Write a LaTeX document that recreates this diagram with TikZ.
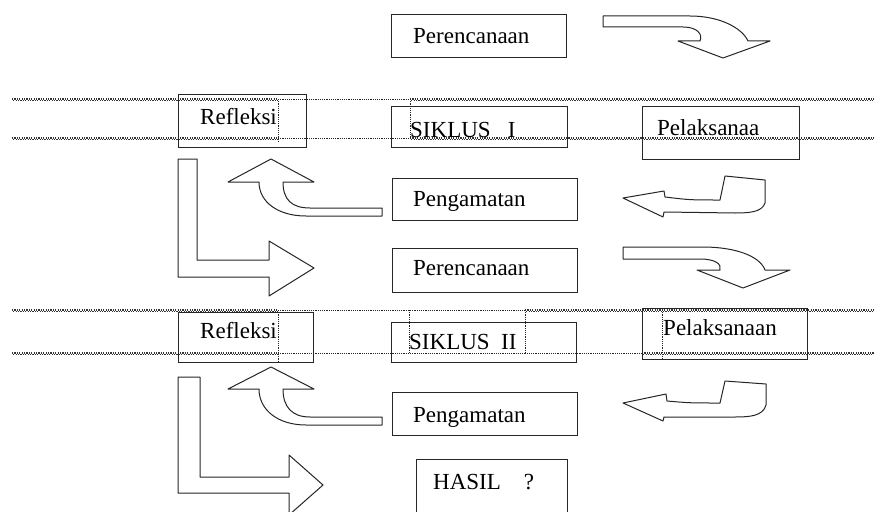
\documentclass[tikz,border=0pt]{standalone}
\usepackage{fontspec}
\setmainfont{Liberation Serif}
\begin{document}
\begin{tikzpicture}[x=1pt,y=-1pt,
  box/.style={draw=black!85, line width=1.2pt, inner sep=0pt, anchor=north west},
  lbl/.style={anchor=base west, inner sep=0pt, font=\fontsize{23}{27}\selectfont},
  thickdot/.style={line width=1.3pt, black!80, dash pattern=on 1.2pt off 1.2pt,
    preaction={draw, line width=1.3pt, black!80, dash pattern=on 1.2pt off 1.2pt,
      dash phase=1.2pt, transform canvas={yshift=-1.3pt}}},
  thindot/.style={line width=1pt, black!85, dash pattern=on 1.1pt off 1.1pt},
  blockarrow/.style={draw=black!85, line width=1pt, fill=white, line join=round}]
\useasboundingbox (0,0) rectangle (874,511);
\clip (0,0) rectangle (874,511);
\fill[white] (0,0) rectangle (874,511);

% ---- dotted band lines, cycle I
\draw[thickdot] (12,99) -- (278,99);
\draw[thindot] (278,99) -- (410,99);
\draw[thickdot] (410,99) -- (874,99);
\draw[thickdot] (12,138) -- (278,138);
\draw[thindot] (278,138) -- (410,138);
\draw[thickdot] (410,138) -- (874,138);
\draw[thindot] (278,99) -- (278,142);
\draw[thindot] (410,99) -- (410,138);

% ---- dotted band lines, cycle II
\draw[thickdot] (12,310) -- (278,310);
\draw[thindot] (278,310) -- (525,310);
\draw[thickdot] (525,310) -- (874,310);
\draw[thickdot] (12,353) -- (278,353);
\draw[thindot] (278,353) -- (642,353);
\draw[thickdot] (642,353) -- (874,353);
\draw[thindot] (278,310) -- (278,362);
\draw[thindot] (409,310) -- (409,353);
\draw[thindot] (525,310) -- (525,353);
\draw[thindot] (662,310) -- (662,359);

% ---- boxes
\node[box, minimum width=175pt, minimum height=43pt] (p1) at (391,14) {};
\node[box, minimum width=128pt, minimum height=53pt] (r1) at (178,94) {};
\node[box, minimum width=176pt, minimum height=41pt] (s1) at (391,106) {};
\node[box, minimum width=157pt, minimum height=53pt] (l1) at (642,106) {};
\node[box, minimum width=185pt, minimum height=42pt] (g1) at (392,178) {};
\node[box, minimum width=185pt, minimum height=44pt] (p2) at (392,248) {};
\node[box, minimum width=135pt, minimum height=50pt] (r2) at (178,312) {};
\node[box, minimum width=185pt, minimum height=40pt] (s2) at (391,322) {};
\node[box, minimum width=165pt, minimum height=51pt] (l2) at (642,308) {};
\node[box, minimum width=185pt, minimum height=43pt] (g2) at (392,392) {};
\node[box, minimum width=151pt, minimum height=70pt] (h) at (416,459) {};

% ---- labels
\node[lbl] (p1t) at (413,44) {Perencanaan};
\node[lbl] (r1t) at (200,124) {Refleksi};
\node[lbl] (s1t) at (410,137) {SIKLUS\ \ \ I};
\node[lbl] (l1t) at (657,135) {Pelaksanaa};
\node[lbl] (g1t) at (413,206) {Pengamatan};
\node[lbl] (p2t) at (413,275) {Perencanaan};
\node[lbl] (r2t) at (200,338) {Refleksi};
\node[lbl] (s2t) at (409,349) {SIKLUS\ \ II};
\node[lbl] (l2t) at (663,335) {Pelaksanaan};
\node[lbl] (g2t) at (413,422) {Pengamatan};
\node[lbl] (ht) at (433,489) {HASIL\ \ \ \ ?};

% ---- block arrows, cycle I
% top curved arrow (right then down)
\draw[blockarrow] (603,16) -- (690,16) .. controls (720,16) and (742,28) .. (748,41)
  -- (770,41) -- (723,58) -- (678,41) -- (700,41)
  .. controls (703,34) and (697,27) .. (683,27) -- (603,27) -- cycle;
% left-pointing hook arrow
\draw[blockarrow] (623,198) -- (664,191) -- (665,197) .. controls (690,200) .. (720,200)
  -- (725,176) -- (765,180) -- (765,203) .. controls (762,212) and (750,213) .. (735,213)
  -- (664,212) -- (663,217) -- cycle;
% curved up arrow
\draw[blockarrow] (271,159) -- (314,182) -- (283,182) .. controls (283,200) and (292,208) .. (310,208)
  -- (382,208) -- (382,216) -- (306,216) .. controls (278,216) and (259,202) .. (259,182)
  -- (228,182) -- cycle;
% L arrow
\draw[blockarrow] (178,159) -- (197,159) -- (197,260) -- (269,260) -- (269,241) -- (314,268)
  -- (269,296) -- (269,277) -- (178,277) -- cycle;
% second curved arrow (right then down)
\draw[blockarrow] (623,247) -- (703,247) .. controls (735,247) and (760,256) .. (765,270)
  -- (790,270) -- (743,288) -- (697,270) -- (720,270)
  .. controls (722,264) and (715,259) .. (700,259) -- (623,259) -- cycle;

% ---- block arrows, cycle II
\draw[blockarrow] (623,403) -- (666,394) -- (667,401) .. controls (690,403) .. (720,403)
  -- (725,381) -- (766,384) -- (766,405) .. controls (763,416) and (750,417) .. (735,417)
  -- (664,417) -- (663,421) -- cycle;
\draw[blockarrow] (271,367) -- (314,389) -- (283,389) .. controls (283,407) and (292,417) .. (310,417)
  -- (382,417) -- (382,425) -- (306,425) .. controls (278,425) and (259,410) .. (259,389)
  -- (228,389) -- cycle;
\draw[blockarrow] (178,377) -- (200,377) -- (200,477) -- (289,477) -- (289,455) -- (323,485)
  -- (289,515) -- (289,493) -- (178,493) -- cycle;
\end{tikzpicture}
\end{document}
